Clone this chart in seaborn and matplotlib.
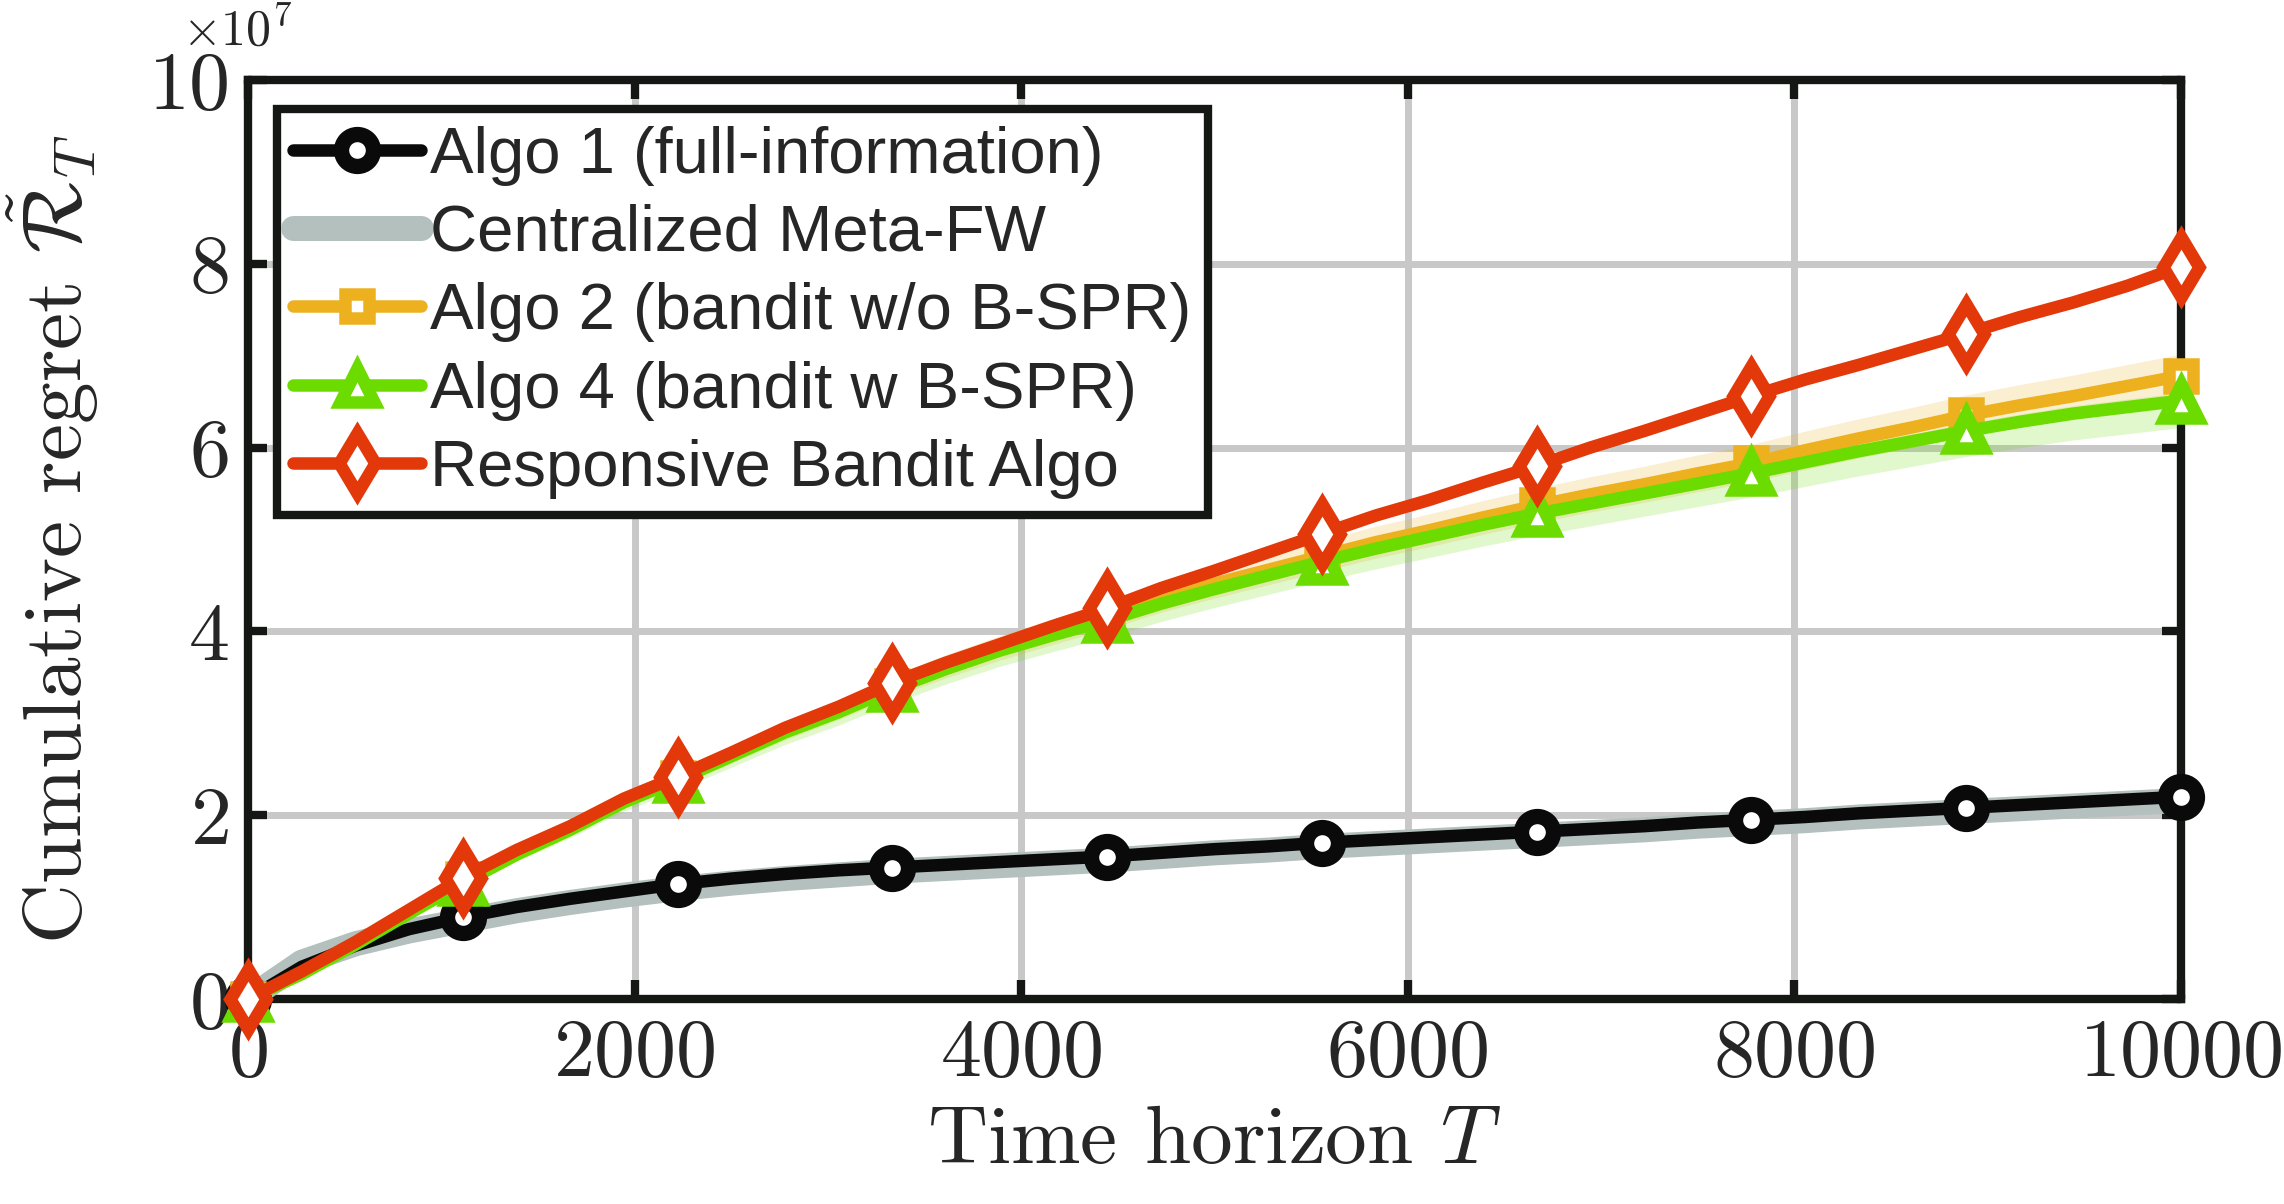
import numpy as np
import seaborn as sns
import matplotlib.pyplot as plt

# Time horizon grid (markers every 4th point)
T = np.linspace(0, 10000, 37)

# Cumulative regret, in units of 1e7
algo1 = [0, 0.35, 0.58, 0.76, 0.89, 1.00, 1.09, 1.17, 1.25, 1.31, 1.36, 1.40, 1.43,
         1.46, 1.49, 1.52, 1.55, 1.59, 1.63, 1.66, 1.70, 1.73, 1.76, 1.79, 1.82,
         1.85, 1.88, 1.92, 1.95, 1.98, 2.02, 2.05, 2.08, 2.11, 2.14, 2.17, 2.20]
central = [0, 0.40, 0.60, 0.74, 0.85, 0.96, 1.05, 1.13, 1.20, 1.26, 1.31, 1.35, 1.39,
           1.42, 1.45, 1.48, 1.51, 1.55, 1.59, 1.62, 1.66, 1.69, 1.72, 1.75, 1.78,
           1.81, 1.84, 1.88, 1.91, 1.94, 1.98, 2.01, 2.04, 2.07, 2.10, 2.13, 2.16]
algo2 = [0, 0.28, 0.60, 0.95, 1.30, 1.60, 1.86, 2.16, 2.40, 2.66, 2.92, 3.15, 3.40,
         3.62, 3.82, 4.00, 4.17, 4.36, 4.52, 4.67, 4.82, 4.97, 5.10, 5.24, 5.37,
         5.49, 5.60, 5.72, 5.83, 5.97, 6.10, 6.22, 6.35, 6.46, 6.56, 6.67, 6.78]
algo4 = [0, 0.27, 0.59, 0.93, 1.26, 1.57, 1.84, 2.14, 2.38, 2.64, 2.90, 3.12, 3.37,
         3.59, 3.79, 3.96, 4.12, 4.30, 4.46, 4.61, 4.76, 4.90, 5.03, 5.16, 5.28,
         5.39, 5.50, 5.61, 5.72, 5.84, 5.96, 6.07, 6.18, 6.28, 6.37, 6.44, 6.51]
responsive = [0, 0.30, 0.62, 0.97, 1.32, 1.62, 1.88, 2.18, 2.42, 2.68, 2.95, 3.18, 3.44,
              3.66, 3.86, 4.06, 4.25, 4.47, 4.66, 4.86, 5.06, 5.26, 5.43, 5.62, 5.80,
              6.00, 6.18, 6.37, 6.56, 6.74, 6.90, 7.07, 7.24, 7.42, 7.58, 7.76, 7.97]

labels = ['Algo 1 (full-information)', 'Centralized Meta-FW',
          'Algo 2 (bandit w/o B-SPR)', 'Algo 4 (bandit w B-SPR)',
          'Responsive Bandit Algo']

# relative half-width of shaded bands
spread_algo2 = 0.035
spread_algo4 = 0.045
spread_resp = 0.008

c_black = '#0a0a0a'
c_gray = '#b3c0bd'
c_orange = '#edb120'
c_green = '#6cdc00'
c_red = '#e2380a'
c_axis = '#151715'

sns.set_style('white')
plt.rcParams['font.family'] = 'serif'
plt.rcParams['font.serif'] = ['cmr10']
plt.rcParams['mathtext.fontset'] = 'cm'
plt.rcParams['axes.formatter.use_mathtext'] = True

fig = plt.figure(figsize=(22.84, 12.04), dpi=100)
ax = fig.add_axes([0.1086, 0.1703, 0.8463, 0.7633])

y1 = np.array(algo1)
yc = np.array(central)
y2 = np.array(algo2)
y4 = np.array(algo4)
yr = np.array(responsive)

# shaded bands
ax.fill_between(T, y2 * (1 - spread_algo2), y2 * (1 + spread_algo2), color=c_orange, alpha=0.2, lw=0, zorder=2)
ax.fill_between(T, y4 * (1 - spread_algo4), y4 * (1 + spread_algo4 * 0.3), color=c_green, alpha=0.2, lw=0, zorder=2)
ax.fill_between(T, yr * (1 - spread_resp), yr * (1 + spread_resp), color=c_red, alpha=0.2, lw=0, zorder=2)

sns.lineplot(x=T, y=yc, ax=ax, color=c_gray, lw=18, errorbar=None, zorder=3, clip_on=False)
sns.lineplot(x=T, y=y1, ax=ax, color=c_black, lw=9, marker='o', markevery=4, ms=23,
             mfc='white', mec=c_black, mew=11, errorbar=None, zorder=4, clip_on=False)
sns.lineplot(x=T, y=y2, ax=ax, color=c_orange, lw=9, marker='s', markevery=4, ms=17,
             mfc='white', mec=c_orange, mew=9, errorbar=None, zorder=5, clip_on=False)
sns.lineplot(x=T, y=y4, ax=ax, color=c_green, lw=9, marker='^', markevery=4, ms=24,
             mfc='white', mec=c_green, mew=9, errorbar=None, zorder=6, clip_on=False)
sns.lineplot(x=T, y=yr, ax=ax, color=c_red, lw=9, marker='d', markevery=4, ms=31,
             mfc='white', mec=c_red, mew=9, errorbar=None, zorder=7, clip_on=False)

ax.set_xlim(0, 10000)
ax.set_ylim(0, 10)
ax.set_xticks(range(0, 10001, 2000))
ax.set_yticks(range(0, 11, 2))
ax.text(-0.034, 1.037, r'$\times 10^7$', transform=ax.transAxes, fontsize=36,
        ha='left', va='baseline')

ax.grid(True, color='#c8c8c8', lw=5, zorder=0)
ax.set_axisbelow(True)
for s in ax.spines.values():
    s.set_linewidth(6)
    s.set_color(c_axis)
ax.tick_params(direction='in', length=14, width=6, labelsize=59, pad=14,
               top=True, right=True, bottom=True, left=True, color=c_axis)

ax.set_xlabel('Time horizon $T$', fontsize=60, labelpad=10)
ax.set_ylabel(r'Cumulative regret $\tilde{\mathcal{R}}_T$', fontsize=60, labelpad=34)

# legend in fixed order
h = ax.get_lines()
leg = ax.legend([h[1], h[0], h[2], h[3], h[4]], labels, loc='upper left',
                bbox_to_anchor=(0.015, 0.968), borderaxespad=0, numpoints=1,
                handlelength=1.95, labelspacing=0.28, handletextpad=0.15,
                borderpad=0.25, fancybox=False, framealpha=1,
                prop={'family': 'Liberation Sans', 'size': 47})
leg.get_frame().set_edgecolor(c_axis)
leg.get_frame().set_linewidth(6)
leg.set_zorder(10)

fig.savefig('out.png', dpi=100)
